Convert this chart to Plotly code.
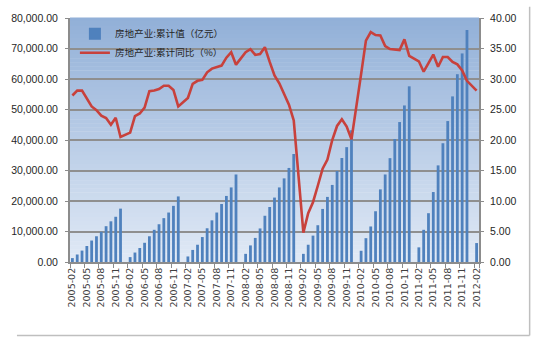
import plotly.graph_objects as go

# ---------------- data ----------------
# cumulative value (亿元), Feb..Dec of each year (January not published)
inv_2005 = [1280, 2460, 3740, 5240, 7040, 8440, 9920, 11740, 13340, 14830, 17500]
inv_2006 = [1600, 3100, 4600, 6300, 8440, 10560, 12380, 14380, 16220, 18410, 21500]
inv_2007 = [1820, 3960, 5660, 8180, 11060, 13660, 16220, 19010, 21660, 24450, 28700]
inv_2008 = [2680, 5440, 7900, 11000, 15160, 18040, 21120, 24450, 27420, 30840, 35420]
inv_2009 = [2680, 5660, 8650, 12060, 17400, 21340, 25280, 29820, 34100, 37660, 43200]
inv_2010 = [3680, 7810, 11650, 16640, 23810, 28700, 34050, 40320, 45890, 51330, 57600]
inv_2011 = [4800, 10560, 16000, 22940, 31680, 38940, 46210, 54300, 61570, 68380, 76060]
inv_2012 = [6210]

# cumulative YoY (%), Feb..Dec of each year
yoy_2005 = [27.3, 28.1, 28.1, 26.75, 25.5, 24.9, 24.0, 23.6, 22.5, 23.65, 20.5]
yoy_2006 = [21.2, 23.9, 24.35, 25.3, 28.0, 28.1, 28.35, 28.9, 28.9, 28.2, 25.5]
yoy_2007 = [26.9, 29.2, 29.7, 29.85, 31.1, 31.7, 32.0, 32.2, 33.5, 34.4, 32.35]
yoy_2008 = [34.4, 34.9, 33.95, 34.1, 35.2, 32.8, 30.6, 29.3, 27.55, 25.8, 23.2]
yoy_2009 = [4.8, 8.0, 9.8, 12.5, 15.3, 16.8, 20.0, 22.3, 23.4, 22.2, 20.1]
yoy_2010 = [30.8, 36.3, 37.7, 37.2, 37.15, 35.4, 34.9, 34.8, 34.75, 36.5, 33.8]
yoy_2011 = [32.9, 31.2, 32.6, 34.0, 32.0, 33.6, 33.6, 32.8, 32.4, 31.4, 29.7]
yoy_2012 = [28.1]

name_bar = "房地产业:累计值（亿元）"
name_line = "房地产业:累计同比（%）"

# ---------------- assemble monthly categories ----------------
months = [f"{y}-{m:02d}" for y in range(2005, 2013) for m in range(1, 13)]
months = months[months.index("2005-02"):months.index("2012-02") + 1]

inv_by_year = {2005: inv_2005, 2006: inv_2006, 2007: inv_2007, 2008: inv_2008,
               2009: inv_2009, 2010: inv_2010, 2011: inv_2011, 2012: inv_2012}
yoy_by_year = {2005: yoy_2005, 2006: yoy_2006, 2007: yoy_2007, 2008: yoy_2008,
               2009: yoy_2009, 2010: yoy_2010, 2011: yoy_2011, 2012: yoy_2012}

inv, yoy = [], []
for mstr in months:
    y, m = int(mstr[:4]), int(mstr[5:])
    if m == 1:
        inv.append(None)
        yoy.append(None)
    else:
        inv.append(inv_by_year[y][m - 2])
        yoy.append(yoy_by_year[y][m - 2])

tick_labels = months[::3]

# ---------------- figure ----------------
fig = go.Figure()
fig.add_trace(go.Bar(
    x=months, y=inv, name=name_bar,
    marker=dict(color="#4f81bd", line=dict(width=0)),
    yaxis="y",
))
fig.add_trace(go.Scatter(
    x=months, y=yoy, name=name_line, mode="lines",
    line=dict(color="#c8413c", width=2.6),
    connectgaps=True, yaxis="y2",
))

# gradient background for plot area
shapes = []
n = 60
top = (146, 176, 216)
bot = (224, 233, 245)
for k in range(n):
    t = k / (n - 1)
    c = tuple(round(top[j] + (bot[j] - top[j]) * t) for j in range(3))
    shapes.append(dict(type="rect", xref="x domain", yref="y domain",
                       x0=0, x1=1, y0=1 - (k + 1) / n, y1=1 - k / n + 0.002,
                       fillcolor=f"rgb{c}", line=dict(width=0), layer="below"))

# outer chart border (right and bottom)
L, R, T, B = 55, 56, 11.5, 77.3
W, H = 535, 339
pw, ph = W - L - R, H - T - B
def px(x):
    return (x - L) / pw
def py(y):
    return (H - B - y) / ph
shapes.append(dict(type="line", xref="paper", yref="paper",
                   x0=px(531.5), x1=px(531.5), y0=py(0), y1=py(337),
                   line=dict(color="#bfbfbf", width=1.5)))
shapes.append(dict(type="line", xref="paper", yref="paper",
                   x0=px(0), x1=px(531.5), y0=py(337), y1=py(337),
                   line=dict(color="#bfbfbf", width=1.5)))

num_font = dict(family="Liberation Sans Narrow, Arial Narrow, Liberation Sans, sans-serif",
                size=10.5, color="#262626")

fig.update_layout(
    width=W, height=H,
    margin=dict(l=L, r=R, t=T, b=B, pad=0),
    paper_bgcolor="white",
    plot_bgcolor="rgba(0,0,0,0)",
    bargap=0.42,
    shapes=shapes,
    showlegend=True,
    legend=dict(x=0.012, y=0.995, xanchor="left", yanchor="top",
                bgcolor="rgba(0,0,0,0)", borderwidth=0,
                font=dict(family="Noto Sans CJK SC", size=9.6, color="#262626"),
                tracegroupgap=2),
    xaxis=dict(
        type="category", categoryorder="array", categoryarray=months,
        tickmode="array", tickvals=tick_labels, ticktext=tick_labels,
        tickson="boundaries",
        tickangle=-90, ticks="outside", ticklen=4, tickcolor="#8c8c8c",
        tickfont=dict(family="DejaVu Sans", size=9.5, color="#404040"),
        showgrid=False, showline=True, linecolor="#8c8c8c", linewidth=2,
        range=[-0.5, len(months) - 0.5],
        zeroline=False,
    ),
    yaxis=dict(
        range=[0, 80000], tickmode="linear", tick0=0, dtick=10000,
        tickformat=",.2f", tickfont=num_font,
        showgrid=True, gridcolor="#8f8f8f", gridwidth=1.6,
        showline=True, linecolor="#8c8c8c", linewidth=2,
        ticks="outside", ticklen=3, tickcolor="#8c8c8c",
        ticklabelstandoff=5, zeroline=False,
    ),
    yaxis2=dict(
        range=[0, 40], tickmode="linear", tick0=0, dtick=5,
        tickformat=".2f", tickfont=num_font,
        overlaying="y", side="right", showgrid=False,
        showline=True, linecolor="#8c8c8c", linewidth=2,
        ticks="outside", ticklen=3, tickcolor="#8c8c8c",
        ticklabelstandoff=4, zeroline=False,
    ),
)

fig.write_html("out.html")
